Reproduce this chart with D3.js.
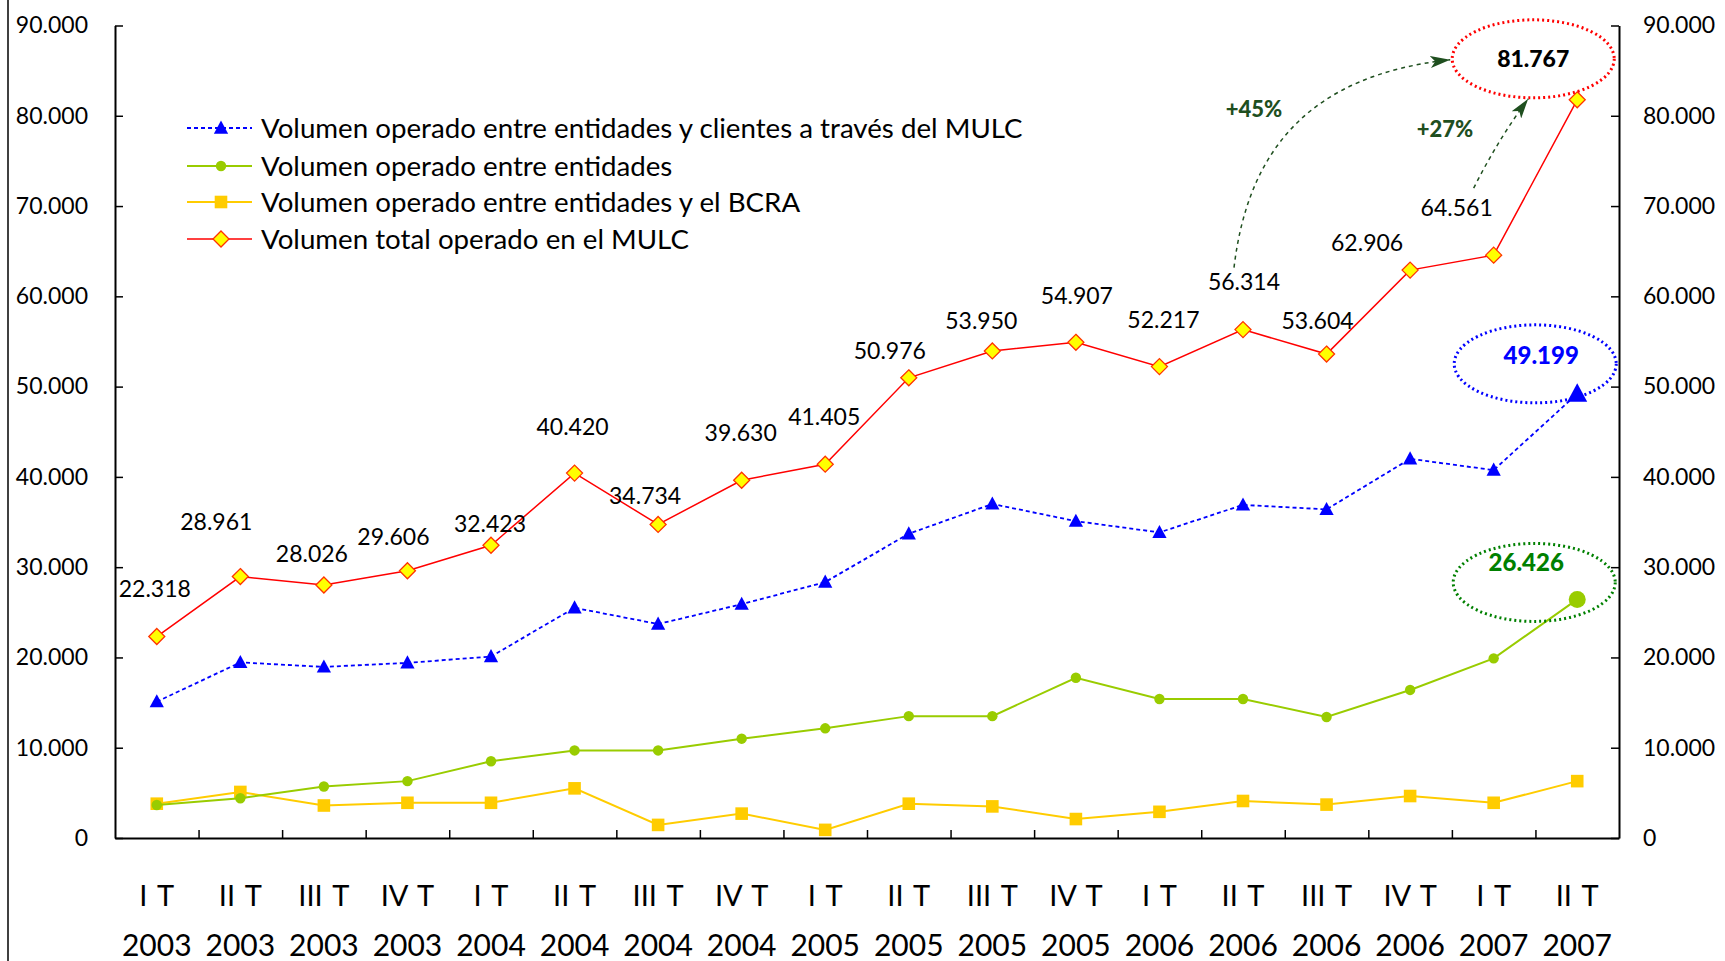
<!DOCTYPE html>
<html><head><meta charset="utf-8">
<script src="https://cdn.jsdelivr.net/npm/d3@7"></script>
<style>body{margin:0;background:#fff;} svg{display:block;} text{font-family:Lato, "Open Sans", sans-serif;}</style>
</head><body><svg id="chart" width="1725" height="961"></svg>
<script>
// ---------- data ----------
const quarters = ["I T","II T","III T","IV T","I T","II T","III T","IV T","I T","II T","III T","IV T","I T","II T","III T","IV T","I T","II T"];
const years = ["2003","2003","2003","2003","2004","2004","2004","2004","2005","2005","2005","2005","2006","2006","2006","2006","2007","2007"];
const clientes = [15100,19450,18950,19400,20100,25500,23700,25900,28350,33700,37000,35100,33850,36900,36400,42000,40750,49199];
const entidades = [3650,4400,5700,6300,8500,9700,9700,11000,12150,13500,13500,17750,15400,15400,13400,16400,19900,26426];
const bcra = [3800,5100,3600,3900,3900,5500,1450,2700,900,3800,3500,2100,2900,4100,3700,4650,3900,6300];
const total = [22318,28961,28026,29606,32423,40420,34734,39630,41405,50976,53950,54907,52217,56314,53604,62906,64561,81767];
const yTicks = [0,10000,20000,30000,40000,50000,60000,70000,80000,90000];
const legendLabels = [
  "Volumen operado entre entidades y clientes a través del MULC",
  "Volumen operado entre entidades",
  "Volumen operado entre entidades y el BCRA",
  "Volumen total operado en el MULC"
];
const growthLabels = ["+45%","+27%"];

// ---------- layout (pixel offsets for labels, not data) ----------
const totalLabelOffsets = [[-2,-48],[-24,-55],[-12,-31],[-14,-34],[-1,-21],[-2,-46],[-13,-28],[-1,-47],[-1,-47],[-19,-27],[-11,-30],[1,-46],[4,-47],[1,-48],[-9,-33],[-43,-27],[-37,-47],[-44,-41]];

const fmt = d3.formatLocale({decimal:",", thousands:".", grouping:[3], currency:["$",""]}).format(",d");

const svg = d3.select("#chart");
const L = 115, R = 1619, T = 25.5, B = 838;
const x = d3.scaleBand().domain(d3.range(quarters.length)).range([L, R]);
const cx = i => x(i) + x.bandwidth()/2;
const y = d3.scaleLinear().domain([0, 90000]).range([B, T]);

// left frame line
svg.append("line").attr("x1",8).attr("x2",8).attr("y1",0).attr("y2",961).attr("stroke","#000").attr("stroke-width",1.5);

// axes
const axL = svg.append("g").attr("transform",`translate(${L},0)`)
  .call(d3.axisLeft(y).tickValues(yTicks).tickSize(-8).tickSizeOuter(0).tickPadding(27).tickFormat(fmt));
const axR = svg.append("g").attr("transform",`translate(${R},0)`)
  .call(d3.axisRight(y).tickValues(yTicks).tickSize(-8).tickSizeOuter(0).tickPadding(24).tickFormat(fmt));
const xb = d3.scaleLinear().domain([0, quarters.length]).range([L, R]);
const axB = svg.append("g").attr("transform",`translate(0,${B})`)
  .call(d3.axisBottom(xb).tickValues(d3.range(1, quarters.length)).tickSize(-8).tickSizeOuter(0).tickFormat(""));
[axL, axR, axB].forEach(g => {
  g.select(".domain").attr("stroke","#000").attr("stroke-width",2);
  g.selectAll(".tick line").attr("stroke","#000").attr("stroke-width",1.5);
  g.selectAll("text").style("font-size","23px").style("font-family","Lato").style("fill","#000");
});

// x labels
const xl = svg.append("g");
xl.selectAll("text.q").data(quarters).join("text").attr("class","q")
  .attr("x",(d,i)=>cx(i)).attr("y",906).attr("text-anchor","middle").style("font-size","29px").style("word-spacing","3px").text(d=>d);
xl.selectAll("text.yr").data(years).join("text").attr("class","yr")
  .attr("x",(d,i)=>cx(i)).attr("y",956).attr("text-anchor","middle").style("font-size","30px").text(d=>d);

// marker shapes
const shapes = {
  tri: s => `M0,${-s}L${s*0.95},${s*0.75}L${-s*0.95},${s*0.75}Z`,
  sq: s => `M${-s},${-s}H${s}V${s}H${-s}Z`,
  dia: s => `M0,${-s}L${s},0L0,${s}L${-s},0Z`,
  circ: s => d3.arc()({innerRadius:0,outerRadius:s,startAngle:0,endAngle:2*Math.PI})
};

const series = [
  {vals:clientes, color:"#0000ff", width:1.8, dash:"4,3", shape:"tri", size:7.5, fill:"#0000ff", stroke:"none", lastSize:10.5},
  {vals:entidades, color:"#99cc00", width:2, dash:null, shape:"circ", size:5.2, fill:"#99cc00", stroke:"none", lastSize:8.5},
  {vals:bcra, color:"#ffcc00", width:2, dash:null, shape:"sq", size:6.3, fill:"#ffcc00", stroke:"none", lastSize:6.3},
  {vals:total, color:"#ff0000", width:1.5, dash:null, shape:"dia", size:8, fill:"#ffff00", stroke:"#ff3300", lastSize:8}
];

const line = d3.line().x((d,i)=>cx(i)).y(d=>y(d));
[2,1,0,3].forEach(k => {
  const s = series[k];
  const g = svg.append("g");
  g.append("path").attr("d", line(s.vals)).attr("fill","none").attr("stroke", s.color)
    .attr("stroke-width", s.width).attr("stroke-dasharray", s.dash);
  g.selectAll("path.m").data(s.vals).join("path").attr("class","m")
    .attr("transform",(d,i)=>`translate(${cx(i)},${y(d)})`)
    .attr("d",(d,i)=>shapes[s.shape](i===s.vals.length-1 ? s.lastSize : s.size))
    .attr("fill", s.fill).attr("stroke", s.stroke).attr("stroke-width", 1.3);
});

// total labels
const last = total.length - 1;
svg.append("g").selectAll("text").data(total).join("text")
  .attr("x",(d,i)=>cx(i)+totalLabelOffsets[i][0])
  .attr("y",(d,i)=>y(d)+totalLabelOffsets[i][1])
  .attr("dy","0.35em").attr("text-anchor","middle")
  .style("font-size","23px").style("font-weight",(d,i)=>i===last?"900":"400").style("fill","#000")
  .text(d=>fmt(d));

// ellipses on last points
const ellipses = [
  {val: total[last], dx:-44, dy:-41, color:"#ff0000"},
  {val: clientes[last], dx:-42, dy:-30, color:"#0000ff"},
  {val: entidades[last], dx:-43, dy:-17, color:"#008000"}
];
ellipses.forEach(e => {
  svg.append("ellipse").attr("cx", cx(last)+e.dx).attr("cy", y(e.val)+e.dy).attr("rx",81).attr("ry",39)
    .attr("fill","none").attr("stroke", e.color).attr("stroke-width",3).attr("stroke-dasharray","2,3");
});
svg.append("text").attr("x", cx(last)-36).attr("y", y(clientes[last])-38).attr("dy","0.35em")
  .attr("text-anchor","middle").style("font-size","24px").style("font-weight","900").style("fill","#0000ff").text(fmt(clientes[last]));
svg.append("text").attr("x", cx(last)-51).attr("y", y(entidades[last])-37).attr("dy","0.35em")
  .attr("text-anchor","middle").style("font-size","24px").style("font-weight","900").style("fill","#008000").text(fmt(entidades[last]));

// growth arrows
const dg = "#1f4f1f";
const defs = svg.append("defs");
defs.append("marker").attr("id","arr").attr("viewBox","0 0 20 12").attr("refX",20).attr("refY",6)
  .attr("markerWidth",20).attr("markerHeight",12).attr("markerUnits","userSpaceOnUse").attr("orient","auto")
  .append("path").attr("d","M0,0L20,6L0,12L5,6Z").attr("fill",dg);
const p56 = [cx(13)+totalLabelOffsets[13][0], y(total[13])+totalLabelOffsets[13][1]];
const p64 = [cx(16)+totalLabelOffsets[16][0], y(total[16])+totalLabelOffsets[16][1]];
const ex = cx(last)-44, ey = y(total[last])-41;
svg.append("path").attr("d",`M${p56[0]-10},${p56[1]-14}C${p56[0]+4},${p56[1]-132} ${p56[0]+66},${ey+16} ${ex-83},${ey+1}`)
  .attr("fill","none").attr("stroke",dg).attr("stroke-width",1.5).attr("stroke-dasharray","4,4").attr("marker-end","url(#arr)");
svg.append("path").attr("d",`M${p64[0]+17},${p64[1]-20}Q${p64[0]+41},${p64[1]-68} ${ex-5},${ey+40}`)
  .attr("fill","none").attr("stroke",dg).attr("stroke-width",1.5).attr("stroke-dasharray","4,4").attr("marker-end","url(#arr)");
svg.append("text").attr("x",1254).attr("y",109).attr("dy","0.35em").attr("text-anchor","middle")
  .style("font-size","22px").style("font-weight","900").style("fill",dg).text(growthLabels[0]);
svg.append("text").attr("x",1445).attr("y",129).attr("dy","0.35em").attr("text-anchor","middle")
  .style("font-size","22px").style("font-weight","900").style("fill",dg).text(growthLabels[1]);

// legend
const legRows = [128,166,202,239];
const lg = svg.append("g");
legendLabels.forEach((t,k) => {
  const s = series[k];
  const ly = legRows[k];
  lg.append("line").attr("x1",187).attr("x2",252).attr("y1",ly).attr("y2",ly)
    .attr("stroke",s.color).attr("stroke-width",s.width).attr("stroke-dasharray",s.dash);
  lg.append("path").attr("transform",`translate(221,${ly})`).attr("d",shapes[s.shape](s.size))
    .attr("fill",s.fill).attr("stroke",s.stroke).attr("stroke-width",1.3);
  lg.append("text").attr("x",261).attr("y",ly).attr("dy","0.36em").style("font-size","27.7px").style("fill","#000").text(t);
});
</script></body></html>
